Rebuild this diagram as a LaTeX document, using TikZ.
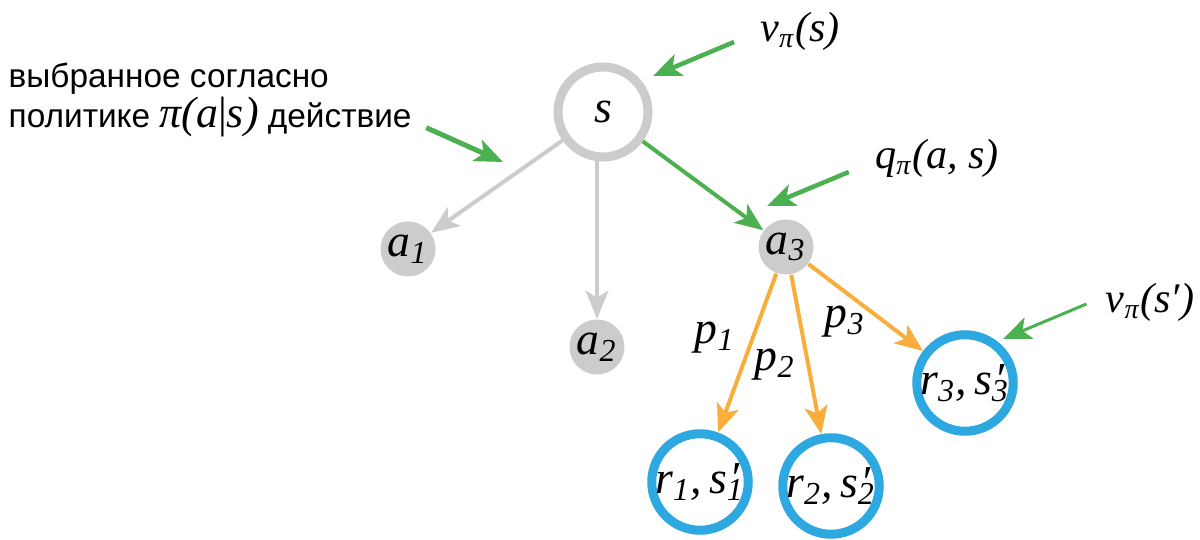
\documentclass[tikz,border=0pt]{standalone}
\usepackage{fontspec}
\setmainfont{Liberation Sans}
\newfontfamily\tmsfont{Liberation Serif}
\usetikzlibrary{arrows.meta}
\definecolor{ringgray}{HTML}{CCCCCC}
\definecolor{arrgreen}{HTML}{4CAF50}
\definecolor{arrorange}{HTML}{F9AE3C}
\definecolor{ringblue}{HTML}{2DA8E0}
\newcommand{\mi}[1]{{\tmsfont\itshape\fontsize{12}{14}\selectfont #1}}
\newcommand{\mib}[1]{{\tmsfont\itshape\fontsize{13}{15}\selectfont #1}}
\newcommand{\sbs}[1]{\textsubscript{#1}}
\newcommand{\prm}{\rlap{\kern0.05em′}}
\newcommand{\pair}[1]{\mib{r\sbs{#1},\hspace{0.15em}s\prm\sbs{#1}}}
\begin{document}
\begin{tikzpicture}[x=0.1mm, y=-0.1mm,
    statenode/.style = {circle, draw=ringgray, line width=0.09cm, minimum size=9mm, inner sep=0pt},
    actnode/.style = {circle, fill=ringgray, minimum size=5.5mm, inner sep=0pt},
    outnode/.style = {circle, draw=ringblue, line width=0.09cm, minimum size=9.5mm, inner sep=0pt},
    tip/.style = {-{Stealth[length=8pt, width=6.5pt, inset=2pt]}},
    grayarr/.style = {tip, draw=ringgray, line width=0.04cm},
    greenarr/.style = {tip, draw=arrgreen, line width=0.045cm},
    orangearr/.style = {tip, draw=arrorange, line width=0.04cm}]
    \useasboundingbox (0, 0) rectangle (1200, 540);
    % tree
    \node [statenode] (s) at (603, 112) {\mib{s}};
    \node [actnode] (a1) at (408, 249) {\mib{a\sbs{1}}};
    \node [actnode] (a2) at (597, 347) {\mib{a\sbs{2}}};
    \node [actnode] (a3) at (786, 247) {\mib{a\sbs{3}}};
    \node [outnode] (r1) at (700, 482) {\pair{1}};
    \node [outnode] (r2) at (831, 486) {\pair{2}};
    \node [outnode] (r3) at (965, 383) {\pair{3}};
    \draw [grayarr] (s) -- (a1);
    \draw [grayarr] (a2 |- s.south) -- (a2);
    \draw [greenarr, line width=0.04cm] (s) -- (a3);
    \draw [orangearr] (a3) -- (r1);
    \draw [orangearr] (a3) -- (r2);
    \draw [orangearr] (a3) -- (r3);
    \node (p1) at (715, 338) {\mib{p\sbs{1}}};
    \node (p2) at (775, 365) {\mib{p\sbs{2}}};
    \node (p3) at (845, 322) {\mib{p\sbs{3}}};
    % annotations
    \node (vs) at (800, 31) {\mi{v\sbs{π}(s)}};
    \node (qas) at (937, 158) {\mi{q\sbs{π}(a, s)}};
    \node (vsp) at (1150, 302) {\mi{v\sbs{π}(s′)}};
    \node [anchor=west, align=left, inner sep=0pt, font=\fontsize{9.5}{11.4}\selectfont] (policy) at (8, 100)
        {выбранное согласно\\политике {\tmsfont\itshape\fontsize{12.5}{14}\selectfont π(a{\upshape|}s)} действие};
    \coordinate (vs tip) at (653, 76);
    \coordinate (qas tip) at (767, 206);
    \coordinate (vsp tip) at (1003, 339);
    \coordinate (policy tip) at (503, 162);
    \draw [greenarr] ([shift={(-14, 11)}]vs.west) -- (vs tip);
    \draw [greenarr] ([shift={(-14, 14)}]qas.west) -- (qas tip);
    \draw [greenarr, line width=0.03cm] ([shift={(-7, 2)}]vsp.west) -- (vsp tip);
    \draw [greenarr, line width=0.05cm] ([shift={(14, -10)}]policy.south east) -- (policy tip);
\end{tikzpicture}
\end{document}
